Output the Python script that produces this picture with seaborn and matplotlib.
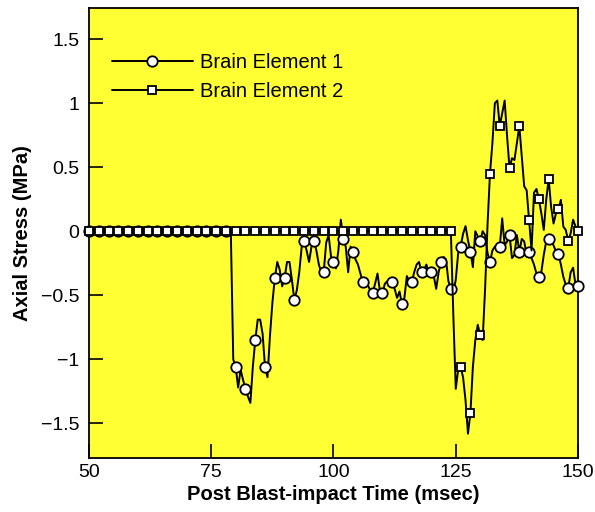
import numpy as np
import pandas as pd
import matplotlib
matplotlib.use("Agg")
import matplotlib.pyplot as plt
import seaborn as sns

# ---------------- data ----------------
time_ms = np.arange(50, 150.01, 0.5)          # sampling grid, 0.5 msec

# Brain Element 1: flat at 0 until 79 msec, then values from 79.5 to 150
element1_tail = [
    -1.00, -1.06, -1.22, -1.08, -1.16, -1.23, -1.29, -1.34, -1.06, -0.85,   # 79.5-84
    -0.69, -0.69, -0.80, -1.06, -1.14, -0.82, -0.56, -0.365, -0.24, -0.30,  # 84.5-89
    -0.43, -0.365, -0.24, -0.24, -0.38, -0.54, -0.46, -0.32, -0.12, -0.08,  # 89.5-94
    -0.15, -0.24, -0.12, -0.08, -0.15, -0.26, -0.32, -0.32, -0.09, -0.03,   # 94.5-99
    -0.20, -0.24, -0.29, -0.15, 0.09, -0.06, -0.12, -0.32, -0.12, -0.16,    # 99.5-104
    -0.22, -0.26, -0.33, -0.40, -0.42, -0.42, -0.46, -0.485, -0.41, -0.33,  # 104.5-109
    -0.47, -0.485, -0.41, -0.39, -0.37, -0.40, -0.45, -0.52, -0.47, -0.57,  # 109.5-114
    -0.52, -0.35, -0.39, -0.40, -0.32, -0.26, -0.24, -0.32, -0.30, -0.26,   # 114.5-119
    -0.33, -0.32, -0.35, -0.45, -0.32, -0.24, -0.20, -0.22, -0.39, -0.45,   # 119.5-124
    -0.48, -0.38, -0.17, -0.12, -0.02, 0.04, -0.07, -0.16, -0.28, 0.00,     # 124.5-129
    -0.04, -0.08, 0.00, -0.03, -0.17, -0.24, -0.15, -0.12, -0.11, -0.12,    # 129.5-134
    0.10, -0.11, -0.08, -0.03, -0.21, -0.185, -0.03, -0.16, -0.06, -0.08,   # 134.5-139
    -0.185, -0.16, -0.21, -0.26, -0.33, -0.36, -0.32, -0.185, -0.08, -0.06, # 139.5-144
    -0.08, -0.11, -0.16, -0.18, -0.26, -0.355, -0.42, -0.445, -0.32, -0.285,# 144.5-149
    -0.42, -0.425,                                                          # 149.5-150
]
element1 = [0.0] * 59 + element1_tail

# Brain Element 2: flat at 0 until 124 msec, then values from 124.5 to 150
element2_tail = [
    -0.65, -1.23, -1.08, -1.06, -1.14, -1.32, -1.58, -1.42, -1.06, -0.85,   # 124.5-129
    -0.73, -0.81, -0.85, -0.45, 0.05, 0.45, 0.69, 1.00, 1.02, 0.82,         # 129.5-134
    0.92, 1.02, 0.74, 0.49, 0.57, 0.556, 0.69, 0.82, 0.58, 0.35,            # 134.5-139
    0.32, 0.086, -0.15, 0.30, 0.33, 0.25, 0.14, 0.01, 0.245, 0.41,          # 139.5-144
    0.19, 0.06, 0.14, 0.17, 0.245, 0.036, 0.01, -0.078, -0.016, 0.09,       # 144.5-149
    0.036, 0.005,                                                           # 149.5-150
]
element2 = [0.0] * 149 + element2_tail

series_names = ["Brain Element 1", "Brain Element 2"]
x_ticks = [50, 75, 100, 125, 150]
y_ticks = [-1.5, -1, -0.5, 0, 0.5, 1, 1.5]
y_tick_labels = ["\u22121.5", "\u22121", "\u22120.5", "0", "0.5", "1", "1.5"]

# ---------------- plot ----------------
sns.set_theme(style="ticks")
plt.rcParams["font.family"] = ["Liberation Sans", "DejaVu Sans"]
plt.rcParams["text.color"] = "black"
plt.rcParams["axes.labelcolor"] = "black"
plt.rcParams["xtick.color"] = "black"
plt.rcParams["ytick.color"] = "black"

fig = plt.figure(figsize=(5.95, 5.12), dpi=100)
ax = fig.add_axes([89 / 595, 1 - 458 / 512, (578 - 89) / 595, (458 - 8.3) / 512])
ax.set_facecolor("#FFFF33")

df1 = pd.DataFrame({"t": time_ms, "v": element1})
df2 = pd.DataFrame({"t": time_ms, "v": element2})

sns.lineplot(data=df1, x="t", y="v", ax=ax, estimator=None, color="black",
             linewidth=1.4, marker="o", markersize=7.5, markerfacecolor="white",
             markeredgecolor="black", markeredgewidth=1.3, markevery=4,
             clip_on=False, label=series_names[0], zorder=3)
sns.lineplot(data=df2, x="t", y="v", ax=ax, estimator=None, color="black",
             linewidth=1.4, marker="s", markersize=5.5, markerfacecolor="white",
             markeredgecolor="black", markeredgewidth=1.3, markevery=4,
             clip_on=False, label=series_names[1], zorder=4)

ax.set_xlim(50, 150)
ax.set_ylim(-1.77, 1.74)
ax.set_xticks(x_ticks)
ax.set_xticklabels([str(v) for v in x_ticks])
ax.set_yticks(y_ticks)
ax.set_yticklabels(y_tick_labels)
ax.tick_params(axis="x", direction="in", length=10, width=1.2, top=False,
               labelsize=14, colors="black", pad=4)
ax.tick_params(axis="y", direction="in", length=10, width=1.2, right=False,
               labelsize=14, colors="black", pad=7)
for s in ax.spines.values():
    s.set_linewidth(1.3)
    s.set_color("black")

ax.set_xlabel("Post Blast-impact Time (msec)", fontsize=14.5, fontweight="bold",
              labelpad=3, color="black")
ax.set_ylabel("Axial Stress (MPa)", fontsize=14.5, fontweight="bold",
              labelpad=6, color="black")

handles, labels = ax.get_legend_handles_labels()
leg = ax.legend(handles, labels, loc="upper left", bbox_to_anchor=(0.047, 0.90),
                frameon=False, fontsize=14.5, handlelength=4.0, handletextpad=0.35,
                labelspacing=0.5, borderpad=0, borderaxespad=0, numpoints=1)
for txt in leg.get_texts():
    txt.set_color("black")

fig.savefig("out.png", dpi=100)
